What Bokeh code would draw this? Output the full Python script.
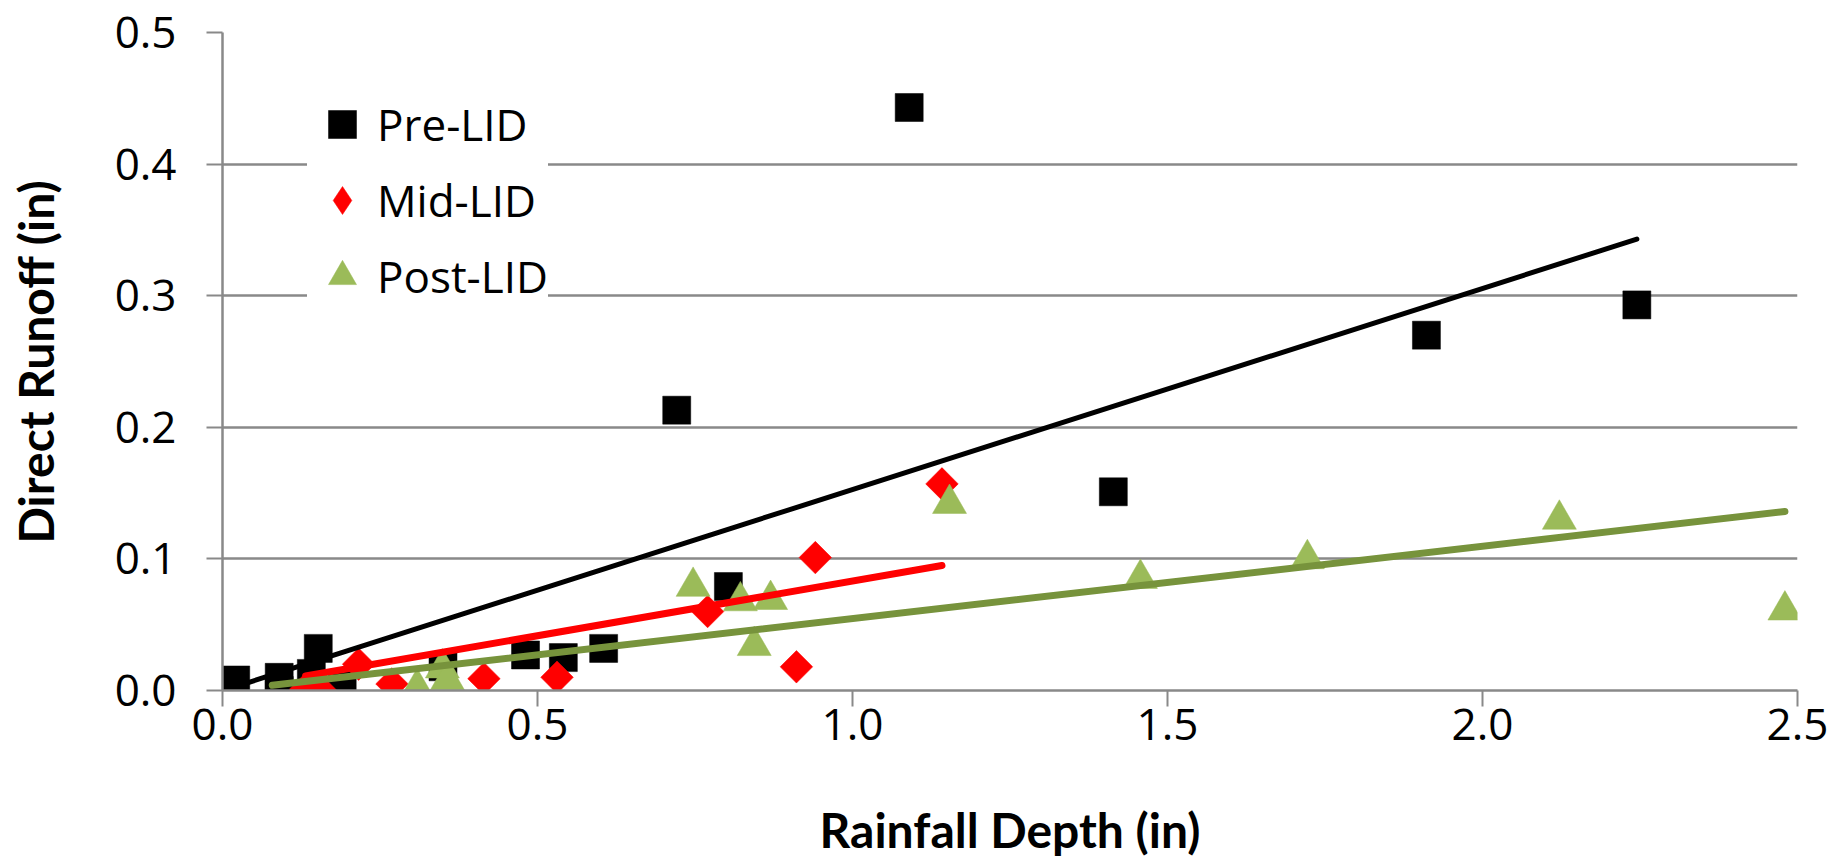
import numpy as np
from bokeh.plotting import figure
from bokeh.models import Range1d, FixedTicker, Legend, LegendItem
from bokeh.embed import file_html
from bokeh.resources import INLINE

# ---- data ----
pre_x = [0.021, 0.090, 0.090, 0.141, 0.152, 0.190, 0.350, 0.481, 0.541, 0.605, 0.721, 0.803, 1.090, 1.414, 1.911, 2.245]
pre_y = [0.008, 0.010, 0.000, 0.013, 0.032, 0.004, 0.018, 0.027, 0.025, 0.032, 0.213, 0.079, 0.443, 0.151, 0.270, 0.293]

mid_x = [0.132, 0.156, 0.216, 0.269, 0.415, 0.531, 0.770, 0.911, 0.941, 1.142]
mid_y = [0.001, 0.000, 0.020, 0.005, 0.009, 0.010, 0.060, 0.018, 0.101, 0.157]

post_x = [0.309, 0.349, 0.357, 0.747, 0.822, 0.844, 0.870, 1.154, 1.457, 1.722, 2.122, 2.480]
post_y = [0.002, 0.017, 0.008, 0.079, 0.068, 0.034, 0.069, 0.142, 0.085, 0.100, 0.130, 0.061]

# linear trendlines (end points)
pre_trend_x = [0.021, 2.245]
pre_trend_y = [0.003, 0.343]
mid_trend_x = [0.132, 1.142]
mid_trend_y = [0.011, 0.095]
post_trend_x = [0.079, 2.480]
post_trend_y = [0.004, 0.136]

series_names = ["Pre-LID", "Mid-LID", "Post-LID"]
x_ticks = [0.0, 0.5, 1.0, 1.5, 2.0, 2.5]
x_tick_labels = ["0.0", "0.5", "1.0", "1.5", "2.0", "2.5"]
y_ticks = [0.0, 0.1, 0.2, 0.3, 0.4, 0.5]
y_tick_labels = ["0.0", "0.1", "0.2", "0.3", "0.4", "0.5"]
x_title = "Rainfall Depth (in)"
y_title = "Direct Runoff (in)"

BLACK = "#000000"
RED = "#FF0000"
GREEN = "#9BBB59"
GREEN_LINE = "#77933C"
GRID = "#898989"

p = figure(width=1835, height=863, output_backend="svg", toolbar_location=None,
           x_range=Range1d(0, 2.5), y_range=Range1d(0, 0.5),
           min_border_left=222, min_border_right=38, min_border_top=32,
           min_border_bottom=173, background_fill_color="white",
           border_fill_color="white")
p.outline_line_color = None

# markers
r_pre = p.scatter(pre_x, pre_y, marker="square", size=28, fill_color=BLACK,
                  line_color=BLACK, line_width=0.5)
# diamond-shaped underlay (used for the legend swatch), fully inside the rotated squares
r_mid_leg = p.scatter(mid_x, mid_y, marker="diamond", size=31,
                      fill_color=RED, line_color=RED, line_width=0.5)
r_mid = p.scatter(mid_x, mid_y, marker="square", size=23, angle=np.pi / 4,
                  fill_color=RED, line_color=RED, line_width=0.5)
r_post = p.scatter(post_x, post_y, marker="triangle", size=34, fill_color=GREEN,
                   line_color=GREEN, line_width=0.5)

# trendlines
p.line(pre_trend_x, pre_trend_y, line_color=BLACK, line_width=5, line_cap="round")
p.line(mid_trend_x, mid_trend_y, line_color=RED, line_width=7, line_cap="round")
p.line(post_trend_x, post_trend_y, line_color=GREEN_LINE, line_width=7, line_cap="round")

legend = Legend(items=[LegendItem(label=series_names[0], renderers=[r_pre]),
                       LegendItem(label=series_names[1], renderers=[r_mid_leg]),
                       LegendItem(label=series_names[2], renderers=[r_post])],
                location=(85, 379), glyph_width=70, glyph_height=70,
                spacing=6, padding=8, margin=0, label_standoff=0,
                border_line_color=None, background_fill_color="white",
                background_fill_alpha=1.0,
                label_text_font="Open Sans", label_text_font_size="44px",
                label_text_color="black")
p.add_layout(legend)

# axes
p.xaxis.ticker = FixedTicker(ticks=x_ticks)
p.xaxis.major_label_overrides = {t: l for t, l in zip(x_ticks, x_tick_labels)}
p.yaxis.ticker = FixedTicker(ticks=y_ticks)
p.yaxis.major_label_overrides = {t: l for t, l in zip(y_ticks, y_tick_labels)}

for ax in (p.xaxis[0], p.yaxis[0]):
    ax.axis_line_color = GRID
    ax.axis_line_width = 2.5
    ax.major_tick_line_color = GRID
    ax.major_tick_line_width = 2
    ax.major_tick_in = 0
    ax.major_tick_out = 16
    ax.minor_tick_line_color = None
    ax.major_label_text_font = "Open Sans"
    ax.major_label_text_font_size = "44px"
    ax.major_label_text_color = "black"
    ax.axis_label_text_font = "Lato"
    ax.axis_label_text_font_style = "bold"
    ax.axis_label_text_font_size = "48px"
    ax.axis_label_text_color = "black"

p.xaxis.axis_label = x_title
p.yaxis.axis_label = y_title
p.yaxis.major_label_standoff = 30
p.xaxis.major_label_standoff = 2
p.yaxis.axis_label_standoff = 48
p.xaxis.axis_label_standoff = 58

p.xgrid.visible = False
p.ygrid.grid_line_color = GRID
p.ygrid.grid_line_width = 2.5

open("out.html", "w").write(file_html(p, INLINE))
